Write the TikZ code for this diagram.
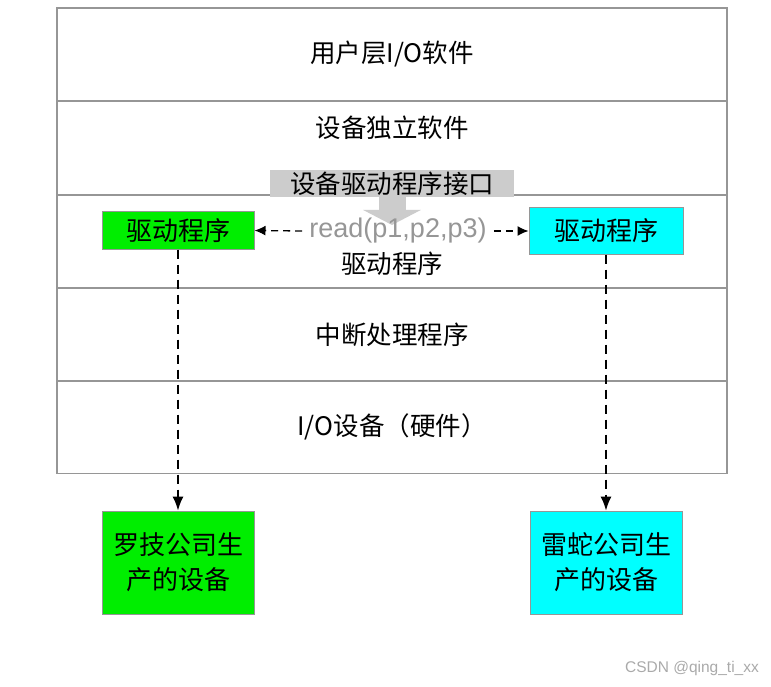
\documentclass[tikz,border=0pt]{standalone}
\usepackage{fontspec}
\setmainfont{Noto Sans CJK SC}
\newfontfamily\latinfont{Liberation Sans}
\usetikzlibrary{arrows.meta}
\definecolor{bordergray}{RGB}{150,150,150}
\definecolor{ifacegray}{RGB}{204,204,204}
\definecolor{readgray}{RGB}{150,150,150}
\definecolor{devgreen}{RGB}{0,238,0}
\definecolor{devcyan}{RGB}{0,255,255}
\definecolor{markgray}{RGB}{170,170,170}
\begin{document}
\begin{tikzpicture}[x=1pt,y=-1pt,
  layer/.style={draw=bordergray, line width=1.2pt, minimum width=670pt, minimum height=93pt, inner sep=0pt, font=\fontsize{25.5}{28}\selectfont},
  plain/.style={inner sep=0pt, font=\fontsize{25.5}{28}\selectfont},
  drvbox/.style={draw=bordergray, line width=1pt, inner sep=0pt, font=\fontsize{26}{28}\selectfont},
  devbox/.style={draw=bordergray, line width=1pt, inner sep=0pt, minimum width=152pt, minimum height=103pt, align=center, font=\fontsize{26}{35}\selectfont},
  dasharrow/.style={dashed, dash pattern=on 7pt off 5pt, line width=1.3pt, -{Latex[length=11pt,width=10pt]}},
  vdash/.style={dashed, dash pattern=on 9pt off 6pt, line width=1.3pt, -{Latex[length=14pt,width=11pt]}},
]
\useasboundingbox (0,0) rectangle (771,687);
\fill[white] (0,0) rectangle (771,687);

% layers
\node[layer] (r1) at (392,54.5) {用户层I/O软件};
\node[layer] (r2) at (392,148) {};
\node[layer] (r3) at (392,241.5) {};
\node[layer] (r4) at (392,334.5) {中断处理程序};
\node[layer] (r5) at (392,427) {I/O设备（硬件）};

\node[plain] (t2) at (392,128) {设备独立软件};
\node[plain] (t3) at (392,264) {驱动程序};

% interface box and arrow
\node[fill=ifacegray, minimum width=244pt, minimum height=27pt, inner sep=0pt, font=\fontsize{25.5}{28}\selectfont] (iface) at (392,183.5) {设备驱动程序接口};
\coordinate (ifaceend) at (392,225);
\draw[ifacegray, line width=27pt, -{Triangle[length=15pt,width=57pt]}] (iface.south) -- (ifaceend);

% drivers
\node[drvbox, fill=devgreen, minimum width=152pt, minimum height=37pt] (gdrv) at (178,230.5) {驱动程序};
\node[drvbox, fill=devcyan, minimum width=154pt, minimum height=46pt] (cdrv) at (606,231) {驱动程序};

\node[inner sep=0pt, text=readgray, font=\latinfont\fontsize{27}{30}\selectfont] (read) at (398,231) {read(p1,p2,p3)};
\draw[dasharrow] ([xshift=-7pt]read.west) -- (gdrv.east);
\draw[dasharrow] ([xshift=7pt]read.east) -- (cdrv.west);

% devices
\node[devbox, fill=devgreen] (gdev) at (178,562.5) {罗技公司生\\产的设备};
\node[devbox, fill=devcyan] (cdev) at (606,562.5) {雷蛇公司生\\产的设备};

\draw[vdash] (gdrv.south) -- (gdev.north);
\draw[vdash] (cdrv.south) -- (cdev.north);

\node[inner sep=0pt, text=markgray, font=\latinfont\fontsize{15.5}{17}\selectfont] (mark) at (692,668) {CSDN @qing\_ti\_xx};
\end{tikzpicture}
\end{document}
